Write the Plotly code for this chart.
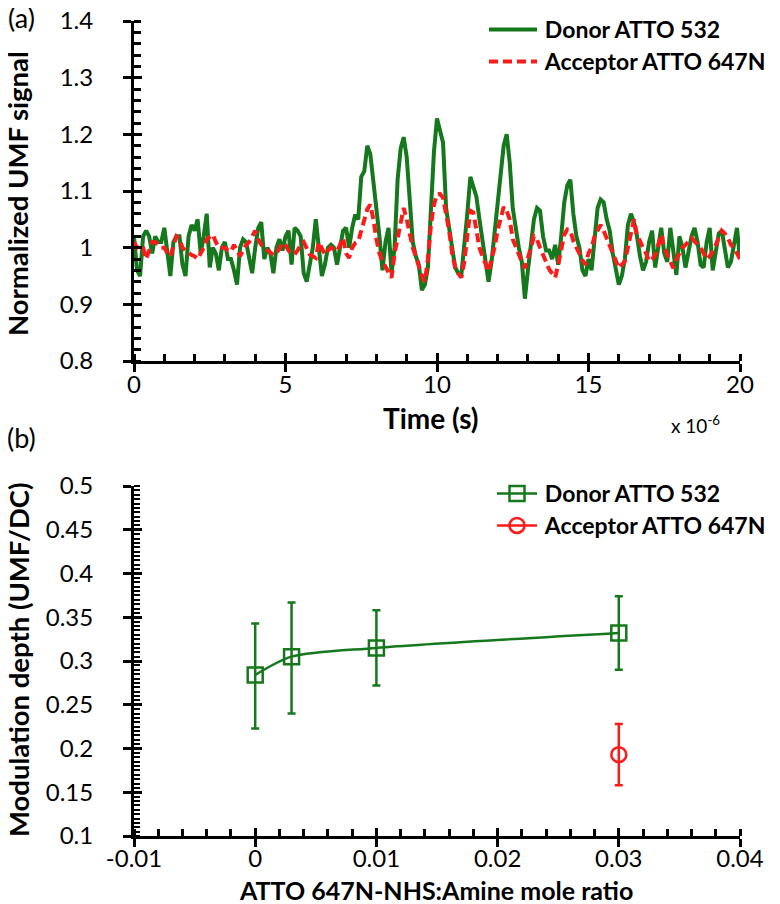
import numpy as np
import plotly.graph_objects as go

# ---------------- data: panel (a) ----------------
time_us = np.round(np.arange(0, 20.05, 0.1), 1)  # time axis, units of 1e-6 s

donor_signal = [
    1.02, 0.96, 0.95, 1.02, 1.03, 1.02, 0.99, 1.02, 1.01, 1.01,
    1.035, 0.99, 0.95, 1.01, 1.02, 1.02, 0.97, 0.95, 1.02, 1.04,
    1.03, 1.05, 0.99, 1.02, 1.06, 0.965, 1.0, 0.99, 0.96, 1.0,
    1.01, 0.98, 0.98, 0.96, 0.935, 1.0, 1.015, 1.01, 0.985, 0.955,
    1.0, 1.035, 1.045, 0.98, 1.0, 0.99, 0.955, 1.0, 1.015, 0.995,
    1.02, 1.03, 0.97, 1.035, 1.03, 1.02, 0.955, 0.94, 0.97, 1.0,
    1.05, 1.0, 0.95, 0.97, 1.0, 1.005, 1.0, 0.97, 1.0, 1.03,
    1.035, 1.0, 1.035, 1.058, 1.05, 1.125, 1.135, 1.18, 1.165, 1.12,
    1.07, 1.02, 0.96, 1.01, 1.035, 0.955, 1.0, 1.12, 1.175, 1.195,
    1.16, 1.08, 1.01, 0.985, 0.97, 0.925, 0.935, 0.965, 1.06, 1.17,
    1.228, 1.205, 1.185, 1.07, 1.03, 1.0, 0.965, 0.955, 0.95, 1.0,
    1.06, 1.125, 1.11, 1.09, 1.05, 1.01, 0.97, 0.94, 0.975, 1.03,
    1.07, 1.13, 1.18, 1.2, 1.15, 1.07, 1.03, 1.0, 0.975, 0.91,
    0.96, 1.01, 1.05, 1.07, 1.065, 1.02, 0.995, 0.995, 0.98, 1.005,
    0.97, 1.02, 1.08, 1.11, 1.12, 1.06, 1.02, 1.0, 0.96, 0.95,
    0.98, 0.96, 1.02, 1.07, 1.085, 1.08, 1.05, 1.03, 0.99, 0.96,
    0.935, 0.95, 0.98, 1.04, 1.06, 1.045, 1.02, 0.985, 0.96, 0.975,
    1.01, 1.03, 0.965, 1.0, 1.035, 0.99, 0.975, 1.035, 0.99, 0.952,
    1.02, 1.0, 0.965, 0.99, 1.02, 1.035, 1.01, 0.97, 0.965, 1.01,
    1.035, 0.96, 0.99, 1.025, 1.03, 1.0, 0.965, 0.975, 1.005, 1.035,
    0.98,
]

acceptor_signal = [
    1.01, 1.0, 1.005, 1.0, 0.98, 0.995, 1.01, 1.01, 1.005, 1.0,
    1.0, 0.99, 0.985, 1.0, 1.02, 1.015, 1.0, 0.995, 0.99, 0.987,
    0.985, 0.98, 0.99, 1.0, 1.015, 1.02, 1.023, 1.01, 1.0, 1.0,
    1.0, 0.995, 0.993, 1.005, 0.995, 0.985, 0.995, 1.005, 1.01, 1.02,
    1.03, 1.015, 1.005, 1.0, 0.995, 0.99, 0.987, 0.99, 1.0, 1.008,
    1.005, 0.995, 0.99, 0.988, 0.995, 1.005, 1.01, 1.0, 0.988, 0.985,
    0.982, 1.01, 1.0, 0.988, 0.995, 1.0, 0.997, 0.994, 1.005, 1.017,
    0.99, 0.982, 1.0, 1.008, 1.011, 1.03, 1.045, 1.068, 1.076, 1.05,
    1.015, 0.99, 0.976, 0.965, 0.955, 0.947, 0.99, 1.02, 1.05, 1.07,
    1.05, 1.023, 1.0, 0.985, 0.965, 0.95, 0.94, 0.98, 1.04, 1.076,
    1.094, 1.095, 1.088, 1.06, 1.03, 0.99, 0.965, 0.955, 0.947, 0.975,
    1.02, 1.065, 1.062, 1.03, 1.0, 0.985, 0.97, 0.958, 0.98, 1.0,
    1.03, 1.055, 1.072, 1.065, 1.05, 1.015, 1.0, 0.99, 0.975, 0.964,
    0.98, 1.0, 1.02, 1.015, 1.0, 0.985, 0.975, 0.962, 0.955, 0.947,
    0.97, 1.0, 1.023, 1.032, 1.03, 1.012, 1.0, 0.988, 0.978, 0.97,
    0.99, 1.0, 1.02, 1.03, 1.04, 1.03, 1.017, 1.0, 0.987, 0.975,
    0.964, 0.97, 0.976, 1.0, 1.03, 1.05, 1.023, 1.01, 1.0, 0.99,
    0.976, 0.98, 0.987, 1.005, 1.023, 1.0, 0.987, 0.975, 0.964, 0.98,
    0.99, 1.0, 1.005, 1.012, 1.017, 1.011, 1.005, 1.0, 0.99, 0.98,
    0.985, 0.993, 1.005, 1.02, 1.03, 1.025, 1.017, 1.005, 1.0, 0.99,
    0.98,
]

# ---------------- data: panel (b) ----------------
donor_ratio = [0.0, 0.003, 0.01, 0.03]
donor_depth = [0.284, 0.305, 0.315, 0.332]
donor_err_plus = [0.059, 0.062, 0.043, 0.042]
donor_err_minus = [0.061, 0.065, 0.043, 0.042]

acceptor_ratio = [0.03]
acceptor_depth = [0.193]
acceptor_err_plus = [0.035]
acceptor_err_minus = [0.035]

bottom_xticks = [-0.01, 0.0, 0.01, 0.02, 0.03, 0.04]
bottom_xticktext = ["-0.01", "0", "0.01", "0.02", "0.03", "0.04"]

DONOR_NAME = "Donor ATTO 532"
ACCEPTOR_NAME = "Acceptor ATTO 647N"

GREEN = "#16781c"
RED = "#ff1a1a"
FONT = "Lato"
GAP = "\u2009"  # small gap between legend symbol and text

W, H = 780, 904
def px_x(p):
    return p / W
def px_y(p):
    return 1 - p / H

XD = [px_x(126), px_x(732)]
TOP_D = [px_y(353), px_y(13)]
BOT_D = [px_y(828), px_y(478)]

fig = go.Figure()

fig.add_trace(go.Scatter(
    x=time_us, y=donor_signal, mode="lines", name=GAP + DONOR_NAME,
    line=dict(color=GREEN, width=4), xaxis="x", yaxis="y", legend="legend",
))
fig.add_trace(go.Scatter(
    x=time_us, y=acceptor_signal, mode="lines", name=GAP + ACCEPTOR_NAME,
    line=dict(color=RED, width=4, dash="9px,5px"), xaxis="x", yaxis="y", legend="legend3",
))

fig.add_trace(go.Scatter(
    x=donor_ratio, y=donor_depth, mode="lines+markers", name=GAP + DONOR_NAME,
    line=dict(color=GREEN, width=2.5, shape="spline", smoothing=0.8),
    marker=dict(symbol="square-open", size=15, color=GREEN, line=dict(width=2.5, color=GREEN)),
    error_y=dict(type="data", symmetric=False, array=donor_err_plus, arrayminus=donor_err_minus,
                 color=GREEN, thickness=2.5, width=4),
    xaxis="x2", yaxis="y2", legend="legend2",
))
fig.add_trace(go.Scatter(
    x=acceptor_ratio, y=acceptor_depth, mode="lines+markers", name=GAP + ACCEPTOR_NAME,
    line=dict(color=RED, width=2.5),
    marker=dict(symbol="circle-open", size=15, color=RED, line=dict(width=2.5, color=RED)),
    error_y=dict(type="data", symmetric=False, array=acceptor_err_plus, arrayminus=acceptor_err_minus,
                 color=RED, thickness=2.5, width=4),
    xaxis="x2", yaxis="y2", legend="legend4",
))

tickfont = dict(family=FONT, size=24, color="black")
common = dict(showline=True, linecolor="black", linewidth=3, ticks="outside", ticklen=8,
              tickwidth=3, tickcolor="black", showgrid=False, zeroline=False, tickfont=tickfont,
              automargin=False, ticklabeloverflow="allow")
overlay_common = dict(ticks="inside", ticklen=8, tickwidth=3, tickcolor="black",
                      showticklabels=False, showgrid=False, zeroline=False, showline=False,
                      automargin=False)
legfont = dict(family=FONT, size=23, color="black", weight="bold")

def leg(xp, yp, itemwidth):
    return dict(x=px_x(xp), y=px_y(yp), xanchor="left", yanchor="top", font=legfont,
                bgcolor="rgba(0,0,0,0)", itemwidth=itemwidth, tracegroupgap=0, borderwidth=0)

fig.update_layout(
    template="none",
    width=W, height=H, margin=dict(l=0, r=0, t=0, b=0, autoexpand=False),
    paper_bgcolor="white", plot_bgcolor="white",
    font=dict(family=FONT, color="black"),
    xaxis=dict(domain=XD, anchor="y", range=[0, 20], dtick=5, tick0=0, ticklabelstandoff=-8,
               minor=dict(ticks="inside", dtick=1, ticklen=7, tickwidth=2.5, tickcolor="black"),
               **common),
    yaxis=dict(domain=TOP_D, anchor="x", range=[0.8, 1.4], dtick=0.1, tick0=0.8, ticklabelstandoff=25,
               minor=dict(ticks="inside", dtick=0.02, ticklen=7, tickwidth=2.5, tickcolor="black"),
               **common),
    xaxis2=dict(domain=XD, anchor="y2", range=[-0.01, 0.04], tickvals=bottom_xticks,
                ticktext=bottom_xticktext, ticklabelstandoff=-9,
                minor=dict(ticks="inside", dtick=0.002, tick0=0, ticklen=7, tickwidth=2.5, tickcolor="black"),
                **common),
    yaxis2=dict(domain=BOT_D, anchor="x2", range=[0.1, 0.5], dtick=0.05, tick0=0.1, ticklabelstandoff=25,
                minor=dict(ticks="inside", dtick=0.005, ticklen=6, tickwidth=2, tickcolor="black"),
                **common),
    # overlay axes so the major ticks cross the axis line
    xaxis3=dict(overlaying="x", anchor="y", range=[0, 20], dtick=5, tick0=0, **overlay_common),
    yaxis3=dict(overlaying="y", anchor="x", range=[0.8, 1.4], dtick=0.1, tick0=0.8, **overlay_common),
    xaxis4=dict(overlaying="x2", anchor="y2", range=[-0.01, 0.04], tickvals=bottom_xticks, **overlay_common),
    yaxis4=dict(overlaying="y2", anchor="x2", range=[0.1, 0.5], dtick=0.05, tick0=0.1, **overlay_common),
    legend=leg(476, 0, 48),
    legend3=leg(476, 32, 48),
    legend2=leg(484, 464, 40),
    legend4=leg(484, 496, 40),
    showlegend=True,
)

# invisible traces so the overlay axes are drawn
fig.add_trace(go.Scatter(x=[None], y=[None], xaxis="x3", yaxis="y3", showlegend=False, hoverinfo="skip"))
fig.add_trace(go.Scatter(x=[None], y=[None], xaxis="x4", yaxis="y4", showlegend=False, hoverinfo="skip"))

annotations = [
    dict(text="Normalized UMF signal", x=px_x(10), y=px_y(186), textangle=-90,
         font=dict(family=FONT, size=27.5, color="black", weight="bold")),
    dict(text="Time (s)", x=px_x(423), y=px_y(410), font=dict(family=FONT, size=28, color="black", weight="bold")),
    dict(text="x 10<sup>-6</sup>", x=px_x(687), y=px_y(416), font=dict(family=FONT, size=19, color="black")),
    dict(text="(a)", x=px_x(13), y=px_y(9), font=dict(family=FONT, size=27, color="black")),
    dict(text="(b)", x=px_x(13), y=px_y(429), font=dict(family=FONT, size=27, color="black")),
    dict(text="Modulation depth (UMF/DC)", x=px_x(10), y=px_y(652), textangle=-90,
         font=dict(family=FONT, size=27.5, color="black", weight="bold")),
    dict(text="ATTO 647N-NHS:Amine mole ratio", x=px_x(428), y=px_y(882),
         font=dict(family=FONT, size=25, color="black", weight="bold")),
]
for a in annotations:
    fig.add_annotation(xref="paper", yref="paper", showarrow=False, xanchor="center", yanchor="middle", **a)

fig.write_html("out.html")
